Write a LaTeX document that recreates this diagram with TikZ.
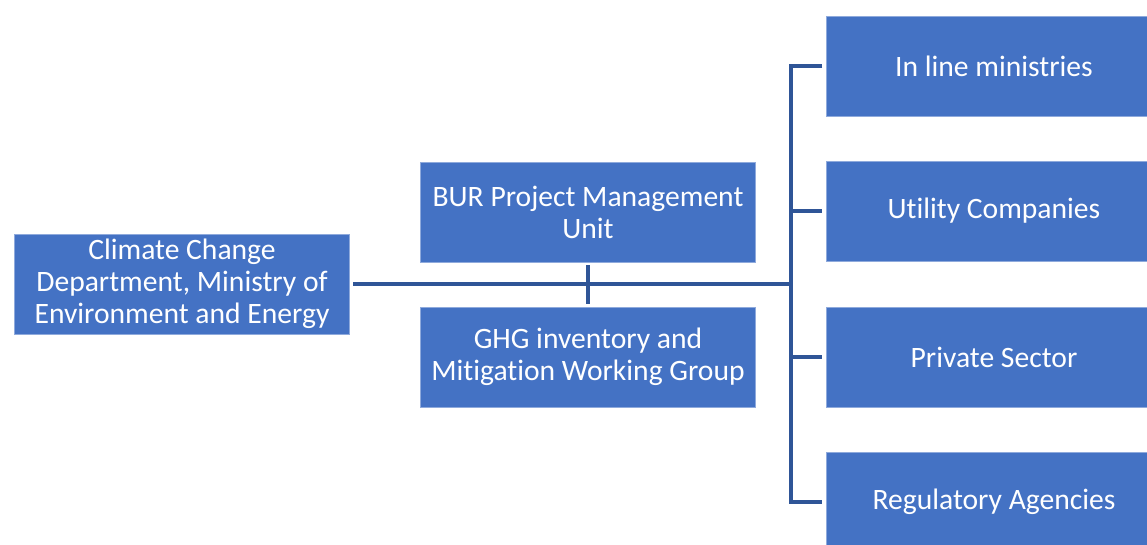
\documentclass[tikz,border=0pt]{standalone}
\usepackage{fontspec}
\setmainfont[Ligatures=NoCommon]{Carlito}
\usepackage{tikz}
\usetikzlibrary{positioning}
\definecolor{boxblue}{HTML}{4472C4}
\definecolor{boxedge}{HTML}{8FAADC}
\definecolor{linkblue}{HTML}{2F5597}

\begin{document}
\begin{tikzpicture}[x=0.75pt, y=-0.75pt,
            unit/.style={fill=boxblue, draw=boxedge, line width=.6pt, text=white,
                minimum width=251pt, minimum height=75pt, align=center, inner sep=0pt,
                font=\fontsize{22.2}{24}\selectfont},
            link/.style={draw=linkblue, line width=2.3pt}]
            \useasboundingbox(0, 0) rectangle(1147, 545);
            \clip(0, 0) rectangle(1147, 545);
            \node[unit](ccd) at (182, 284){Climate Change\\Department, Ministry of\\Environment and Energy};
            \node[unit](bur) at (588, 212){BUR Project Management\\Unit};
            \node[unit](ghg) at (588, 357){GHG inventory and\\Mitigation Working Group};
            \node[unit](ilm) at (994, 66){In line ministries};
            \node[unit](uc) at (994, 211){Utility Companies};
            \node[unit](ps) at (994, 357){Private Sector};
            \node[unit](ra) at (994, 502){Regulatory Agencies};
            \coordinate(bus) at (791, 284);
            \draw[link, shorten <=2.5pt](ccd.east)--(bus);
            \draw[link, shorten <=2pt, shorten >=2pt](bur.south)--(ghg.north);
            %\draw[link](bus)--(ilm.west);
            \draw[link, shorten >=3pt](ilm.west)++(-3pt, 0)--(ilm.west-|bus)--(ra.west-|bus)--(ra.west);
            \draw[link, shorten >=3pt](uc.west-|bus)--(uc.west);
            \draw[link, shorten >=3pt](ps.west-|bus)--(ps.west);
        \end{tikzpicture}
\end{document}
